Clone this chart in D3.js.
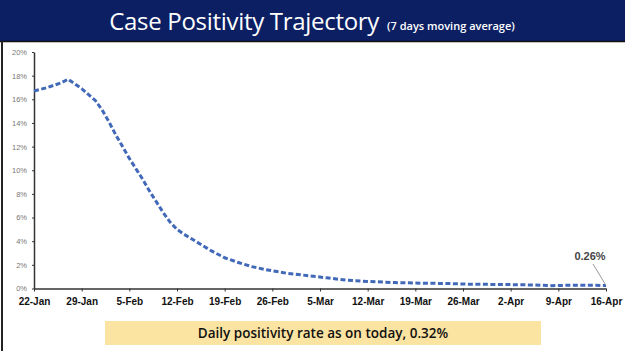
<!DOCTYPE html>
<html>
<head>
<meta charset="utf-8">
<script src="https://cdn.jsdelivr.net/npm/d3@7"></script>
<style>
  body { margin: 0; background: #fff; }
  svg { display: block; }
</style>
</head>
<body>
<div id="chart"></div>
<script>
// 7-day moving average positivity (%)
const dates = ["2021-01-22", "2021-01-24", "2021-01-26", "2021-01-27", "2021-01-29", "2021-01-31",
    "2021-02-01", "2021-02-02", "2021-02-03", "2021-02-04", "2021-02-05", "2021-02-06",
    "2021-02-07", "2021-02-08", "2021-02-09", "2021-02-10", "2021-02-11", "2021-02-12",
    "2021-02-13", "2021-02-15", "2021-02-17", "2021-02-19", "2021-02-21", "2021-02-23",
    "2021-02-25", "2021-02-28", "2021-03-03", "2021-03-06", "2021-03-09", "2021-03-12",
    "2021-03-16", "2021-03-20", "2021-03-24", "2021-03-27", "2021-04-01", "2021-04-05",
    "2021-04-08", "2021-04-11", "2021-04-16"];
const positivity = [16.7, 17.0, 17.4, 17.7, 16.9, 15.9,
    15.1, 14.1, 13.0, 12.0, 11.0, 10.1,
    9.2, 8.2, 7.3, 6.4, 5.6, 5.0,
    4.6, 3.9, 3.2, 2.6, 2.2, 1.85,
    1.6, 1.3, 1.1, 0.9, 0.7, 0.6,
    0.5, 0.45, 0.42, 0.36, 0.34, 0.30,
    0.24, 0.28, 0.26];
const tickDates = ["2021-01-22", "2021-01-29", "2021-02-05", "2021-02-12", "2021-02-19", "2021-02-26",
    "2021-03-05", "2021-03-12", "2021-03-19", "2021-03-26", "2021-04-02", "2021-04-09", "2021-04-16"];
const yTicks = [0, 2, 4, 6, 8, 10, 12, 14, 16, 18, 20];
const title = "Case Positivity Trajectory";
const subtitle = "(7 days moving average)";
const lastLabel = "0.26%";
const footer = "Daily positivity rate as on today, 0.32%";

const W = 625, H = 351;
const parse = d3.utcParse("%Y-%m-%d");
const data = dates.map((d, i) => ({ date: parse(d), value: positivity[i] }));

const svg = d3.select("#chart").append("svg")
    .attr("width", W)
    .attr("height", H);

// Header band
svg.append("rect")
    .attr("x", 0).attr("y", 0)
    .attr("width", W).attr("height", 41)
    .attr("fill", "#0b1f62");
svg.append("line")
    .attr("x1", 0).attr("x2", W)
    .attr("y1", 41.5).attr("y2", 41.5)
    .attr("stroke", "#111").attr("stroke-width", 1.5);
// left slide border
svg.append("line")
    .attr("x1", 2).attr("x2", 2)
    .attr("y1", 41).attr("y2", H)
    .attr("stroke", "#222").attr("stroke-width", 2);

const titleText = svg.append("text")
    .attr("x", 312)
    .attr("y", 30)
    .attr("text-anchor", "middle")
    .attr("fill", "#fff")
    .style("font-family", "'Open Sans', sans-serif");
titleText.append("tspan")
    .style("font-size", "24px")
    .style("letter-spacing", "-0.3px")
    .text(title);
titleText.append("tspan")
    .attr("dx", 8)
    .style("font-size", "11px")
    .style("font-weight", "600")
    .text(subtitle);

// Scales
const x = d3.scaleUtc()
    .domain([parse(tickDates[0]), parse(tickDates[tickDates.length - 1])])
    .range([34, 606]);
const y = d3.scaleLinear()
    .domain([0, 20])
    .range([288.5, 52]);

// X axis
const xAxis = svg.append("g")
    .attr("transform", `translate(0,${y(0)})`)
    .call(d3.axisBottom(x)
        .tickValues(tickDates.map(parse))
        .tickFormat(d3.utcFormat("%-d-%b"))
        .tickSize(3)
        .tickSizeOuter(0));
xAxis.select(".domain").attr("stroke", "#333").attr("stroke-width", 1.5);
xAxis.selectAll(".tick line").attr("stroke", "#333");
xAxis.selectAll("text")
    .attr("dy", "1.05em")
    .attr("fill", "#111")
    .style("font-family", "'Liberation Sans', sans-serif")
    .style("font-size", "10px")
    .style("font-weight", "bold");

// Y axis
const yAxis = svg.append("g")
    .attr("transform", `translate(${x.range()[0]},0)`)
    .call(d3.axisLeft(y)
        .tickValues(yTicks)
        .tickFormat(d => d + "%")
        .tickSize(2)
        .tickSizeOuter(0));
yAxis.select(".domain").attr("stroke", "#333").attr("stroke-width", 1.5);
yAxis.selectAll(".tick line").attr("stroke", "#333");
yAxis.selectAll("text")
    .attr("x", -7)
    .attr("fill", "#777")
    .style("font-family", "'Liberation Sans', sans-serif")
    .style("font-size", "7.5px");

// Line
const line = d3.line()
    .x(d => x(d.date))
    .y(d => y(d.value));

svg.append("path")
    .datum(data)
    .attr("fill", "none")
    .attr("stroke", "#4169b8")
    .attr("stroke-width", 3)
    .attr("stroke-dasharray", "5,2.5")
    .attr("d", line);

// Last value callout
const last = data[data.length - 1];
svg.append("line")
    .attr("x1", x(last.date) - 13)
    .attr("y1", 264)
    .attr("x2", x(last.date))
    .attr("y2", y(last.value))
    .attr("stroke", "#999")
    .attr("stroke-width", 1);
svg.append("text")
    .attr("x", x(last.date) - 16)
    .attr("y", 260)
    .attr("text-anchor", "middle")
    .attr("fill", "#444")
    .style("font-family", "'Liberation Sans', sans-serif")
    .style("font-size", "11px")
    .style("font-weight", "bold")
    .text(lastLabel);

// Footer box
svg.append("rect")
    .attr("x", 105).attr("y", 321)
    .attr("width", 436).attr("height", 24)
    .attr("fill", "#fbe3a1");
svg.append("text")
    .attr("x", 323)
    .attr("y", 338)
    .attr("text-anchor", "middle")
    .attr("fill", "#111")
    .style("font-family", "'Open Sans', sans-serif")
    .style("font-size", "13.5px")
    .style("font-weight", "600")
    .text(footer);
</script>
</body>
</html>
